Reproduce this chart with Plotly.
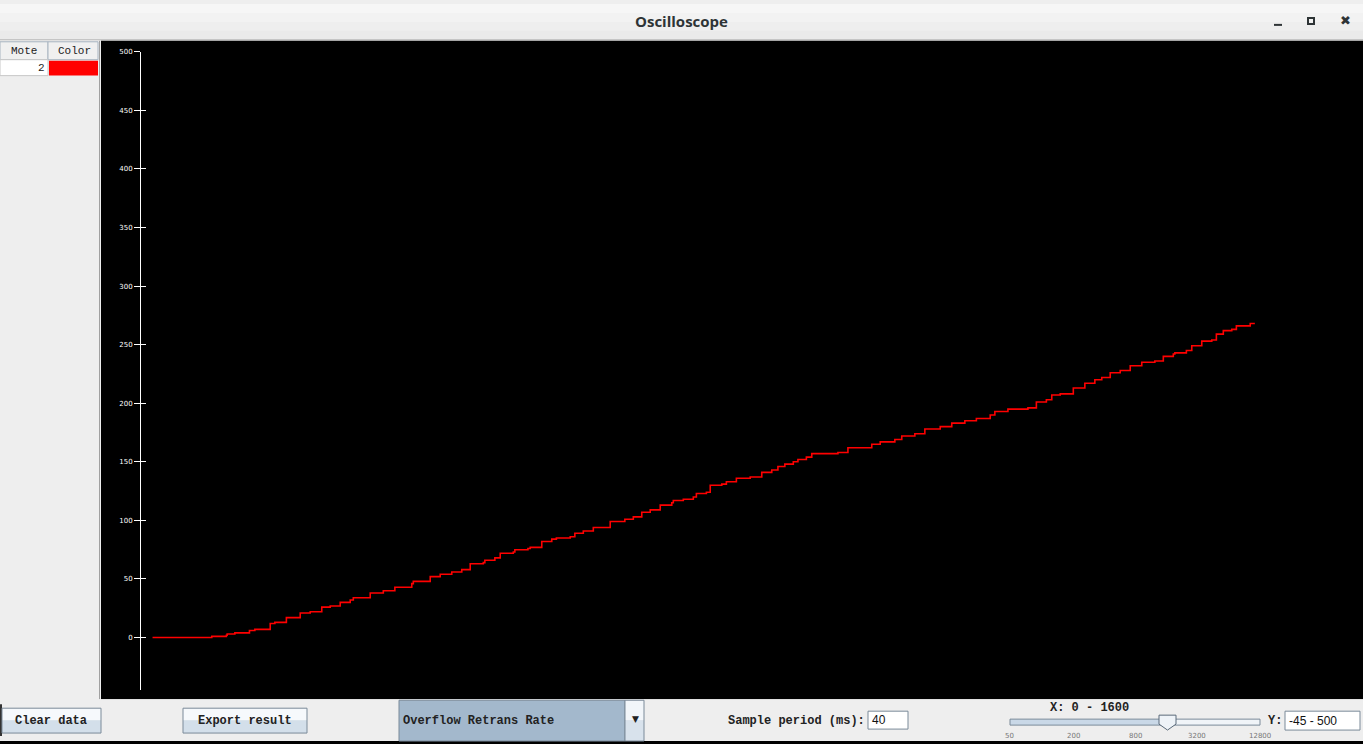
import plotly.graph_objects as go

# ---- data (sample index, Overflow Retrans Rate) ----
sample = [15, 83, 92, 111, 112, 122, 141, 148, 168, 174, 189, 207, 220, 235, 246, 259, 272, 276,
          298, 315, 330, 352, 354, 376, 389, 404, 417, 428, 445, 447, 460, 467, 484, 486, 503, 506,
          521, 534, 540, 558, 564, 575, 588, 599, 610, 629, 640, 651, 662, 675, 690, 692, 705, 718,
          722, 735, 740, 755, 761, 774, 792, 807, 820, 828, 837, 848, 854, 865, 872, 906, 919, 945,
          950, 961, 980, 989, 1006, 1019, 1039, 1054, 1071, 1086, 1104, 1110, 1127, 1153, 1164, 1177,
          1184, 1195, 1212, 1227, 1240, 1249, 1260, 1273, 1286, 1288, 1301, 1318, 1329, 1342, 1344,
          1359, 1366, 1379, 1392, 1398, 1407, 1418, 1424, 1442, 1448]
rate = [0, 0, 1, 2, 3, 4, 6, 7, 12, 13, 17, 21, 22, 26, 27, 30, 32, 34, 38, 40, 43, 46, 48, 52, 54,
        56, 58, 63, 64, 66, 68, 72, 73, 75, 76, 77, 82, 84, 85, 86, 89, 91, 94, 94, 99, 101, 103, 107,
        109, 113, 115, 117, 118, 120, 123, 124, 130, 131, 133, 136, 137, 141, 143, 146, 148, 150, 152,
        154, 157, 158, 162, 162, 165, 167, 169, 172, 174, 178, 180, 183, 185, 187, 190, 193, 195, 196,
        201, 203, 207, 208, 213, 217, 220, 222, 226, 228, 232, 232, 235, 236, 240, 242, 243, 245, 249,
        253, 254, 259, 262, 263, 266, 268, 268, 270]
y_ticks = [0, 50, 100, 150, 200, 250, 300, 350, 400, 450, 500]
y_range = [-45, 500]
x_range = [0, 1588.6]
slider_labels = ["50", "200", "800", "3200", "12800"]

W, H = 1363, 744
def px(x): return x / W
def py(y): return 1 - y / H

fig = go.Figure()
fig.add_trace(go.Scatter(x=sample, y=rate, mode="lines", line_shape="hv",
                         line=dict(color="#ff0000", width=1.6), showlegend=False,
                         hoverinfo="skip"))

shapes = []
def rect(x0, y0, x1, y1, fill, line=None, lw=1, layer="below"):
    shapes.append(dict(type="rect", xref="paper", yref="paper",
                       x0=px(x0), x1=px(x1), y0=py(y1), y1=py(y0),
                       fillcolor=fill, line=dict(color=line or fill, width=lw if line else 0),
                       layer=layer))
def hline(x0, x1, y, color, w=1, layer="below"):
    shapes.append(dict(type="line", xref="paper", yref="paper", x0=px(x0), x1=px(x1),
                       y0=py(y), y1=py(y), line=dict(color=color, width=w), layer=layer))
def vline(x, y0, y1, color, w=1, layer="below"):
    shapes.append(dict(type="line", xref="paper", yref="paper", x0=px(x), x1=px(x),
                       y0=py(y0), y1=py(y1), line=dict(color=color, width=w), layer=layer))

# title bar (soft gradient)
for i, c in enumerate(["#f6f6f6", "#f2f2f2", "#eeeeee", "#eaeaea"]):
    rect(0, i * 9, W, (i + 1) * 9, c)
hline(0, W, 36, "#b5b5b5")
# black scope area
rect(101, 37, W, 699, "#000000")
# left panel
rect(0, 37, 100, 699, "#eeeeee")
vline(99.5, 37, 699, "#a0a0a0")
rect(0, 38, 48, 56, "#f0f0f0", "#a8b4c0")
rect(48, 38, 98, 56, "#f0f0f0", "#a8b4c0")
rect(0, 56, 48, 72, "#ffffff", "#c8c8c8")
rect(49, 57, 98, 72, "#ff0000")
# bottom panel
rect(0, 699, W, 741, "#eeeeee")
rect(0, 741, W, H, "#000000")
vline(1, 704, 736, "#333333", 2)
# buttons
for (x0, x1) in [(2, 101), (183, 307)]:
    rect(x0, 708, x1, 720, "#f6f9fc")
    rect(x0, 720, x1, 733, "#d3dfea")
    rect(x0, 708, x1, 733, "rgba(0,0,0,0)", "#7a8a99")
# dropdown
rect(399, 700, 625, 741, "#a3b8cc", "#7a8a99")
rect(625, 700, 644, 720, "#f2f6fa")
rect(625, 720, 644, 741, "#d8e2ec")
rect(625, 700, 644, 741, "rgba(0,0,0,0)", "#7a8a99")
# text fields
rect(868, 711, 908, 729, "#ffffff", "#7a8a99")
rect(1285, 711, 1360, 730, "#ffffff", "#7a8a99")
# slider
rect(1010, 719, 1167, 725, "#c9d8e7", "#7a8a99")
rect(1167, 719, 1260, 725, "#f0f4f8", "#7a8a99")
x0s, x1s, xm = px(1159), px(1176), px(1167.5)
shapes.append(dict(type="path", xref="paper", yref="paper",
                   path=f"M {x0s},{py(715)} L {x1s},{py(715)} L {x1s},{py(724)} L {xm},{py(730)} L {x0s},{py(724)} Z",
                   fillcolor="#eef3f8", line=dict(color="#5a6a7a", width=1), layer="above"))
# window controls
rect(1274, 20, 1282, 22, "#2e3436")
rect(1308, 14, 1314, 20, "rgba(0,0,0,0)", "#2e3436", 2)

ann = []
def text(x, y, s, size=12, color="#222222", family="Liberation Mono", anchor="left",
         bold=False, vanchor="middle"):
    ann.append(dict(x=px(x), y=py(y), xref="paper", yref="paper", text=f"<b>{s}</b>" if bold else s,
                    showarrow=False, xanchor=anchor, yanchor=vanchor,
                    font=dict(size=size, color=color, family=family)))

text(681, 17, "Oscilloscope", 15, "#2e3436", "Open Sans", "center", True)
text(1345, 17, "✖", 13, "#2e3436", "DejaVu Sans", "center")
text(24, 47, "Mote", 11, "#222222", "Liberation Mono", "center")
text(74, 47, "Color", 11, "#222222", "Liberation Mono", "center")
text(47, 64, "2", 11, "#222222", "Liberation Mono", "right")
text(51, 721, "Clear data", 12, "#222222", "Liberation Mono", "center", True)
text(245, 721, "Export result", 12, "#222222", "Liberation Mono", "center", True)
text(401, 721, "Overflow Retrans Rate", 12, "#222222", "Liberation Mono", "left", True)
text(635, 719, "▼", 9, "#222222", "DejaVu Sans", "center")
text(867, 721, "Sample period (ms):", 12, "#222222", "Liberation Mono", "right", True)
text(870, 720, "40", 12, "#111111", "Liberation Sans", "left")
text(1089, 708, "X: 0 - 1600", 12, "#222222", "Liberation Mono", "center", True)
text(1284, 721, "Y:", 12, "#222222", "Liberation Mono", "right", True)
text(1287, 721, "-45 - 500", 12, "#111111", "Liberation Sans", "left")
for lab, xx in zip(slider_labels, [1010, 1073, 1135, 1197, 1260]):
    text(xx, 735.5, lab, 7, "#777777", "DejaVu Sans", "center")

dom_y = [py(690), py(48)]
fig.update_layout(
    width=W, height=H, margin=dict(l=0, r=0, t=0, b=0),
    paper_bgcolor="#eeeeee", plot_bgcolor="rgba(0,0,0,0)",
    shapes=shapes, annotations=ann,
    xaxis=dict(domain=[px(141), 1], range=x_range, visible=False, fixedrange=True),
    yaxis=dict(domain=dom_y, range=y_range, tickvals=y_ticks, showline=True,
               linecolor="#ffffff", linewidth=1, ticks="outside", ticklen=6,
               tickcolor="#ffffff", tickwidth=1, showgrid=False, zeroline=False,
               tickfont=dict(size=7, color="#ffffff", family="DejaVu Sans")),
    yaxis2=dict(domain=dom_y, range=y_range, tickvals=y_ticks, overlaying="y", anchor="x",
                side="left", ticks="inside", ticklen=5, tickcolor="#ffffff", tickwidth=1,
                showticklabels=False, showgrid=False, zeroline=False, showline=False),
)
fig.add_trace(go.Scatter(x=[None], y=[None], yaxis="y2", showlegend=False, hoverinfo="skip"))
fig.write_html("out.html", config={"displayModeBar": False},
               post_script="document.body.style.margin='0';document.body.style.overflow='hidden';")
